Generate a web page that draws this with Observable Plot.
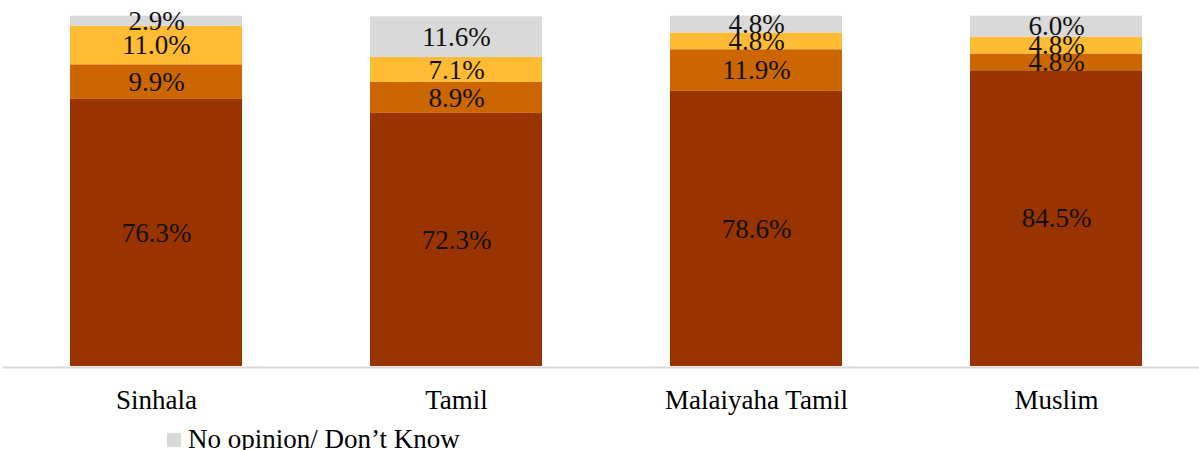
<!DOCTYPE html>
<html>
<head>
<meta charset="utf-8">
<script src="https://cdn.jsdelivr.net/npm/d3@7"></script>
<script src="https://cdn.jsdelivr.net/npm/@observablehq/plot@0.6"></script>
<style>
  body { margin: 0; background: #fff; font-family: "Liberation Serif", serif; }
  #wrap { position: relative; width: 1199px; height: 450px; }
  #legend { position: absolute; left: 167px; top: 424px; display: flex; align-items: center; font-size: 27px; color: #000; white-space: nowrap; }
  #legend .sw { width: 14px; height: 14px; margin-right: 7px; }
</style>
</head>
<body>
<div id="wrap">
  <div id="chart"></div>
  <div id="legend"></div>
</div>
<script>
const categories = ["Sinhala", "Tamil", "Malaiyaha Tamil", "Muslim"];
const seriesNames = ["Agree", "Somewhat agree", "Disagree", "No opinion/ Don\u2019t Know"];
const seriesColors = ["#993300", "#CC6600", "#FFBB33", "#D9D9D9"];
const agree = [76.3, 72.3, 78.6, 84.5];
const somewhatAgree = [9.9, 8.9, 11.9, 4.8];
const disagree = [11.0, 7.1, 4.8, 4.8];
const noOpinion = [2.9, 11.6, 4.8, 6.0];
const legendShown = ["No opinion/ Don\u2019t Know"];

const seriesValues = [agree, somewhatAgree, disagree, noOpinion];
const data = [];
seriesNames.forEach((s, si) => {
  categories.forEach((c, ci) => {
    data.push({cat: c, series: s, value: seriesValues[si][ci]});
  });
});

const chart = Plot.plot({
  width: 1199,
  height: 425,
  marginTop: 16,
  marginBottom: 59,
  marginLeft: 2,
  marginRight: 0,
  style: {fontFamily: "'Liberation Serif', serif", color: "#000", background: "#fff"},
  x: {domain: categories, range: [4.5, 1206.5], paddingInner: 0.4276, paddingOuter: 0.2138, label: null},
  y: {domain: [0, 100], axis: null},
  color: {domain: seriesNames, range: seriesColors},
  marks: [
    Plot.ruleY([0], {stroke: "#D9D9D9", strokeWidth: 2, dy: 1}),
    Plot.barY(data, {x: "cat", y: "value", fill: "series", z: "series", order: seriesNames, inset: 0}),
    Plot.text(data, Plot.stackY({x: "cat", y: "value", z: "series", order: seriesNames,
      text: d => d.value.toFixed(1) + "%", fontSize: 27, fill: "#111"})),
    Plot.axisX({tickSize: 0, tickPadding: 23, fontSize: 27, label: null, fill: "#000"})
  ]
});
document.getElementById("chart").appendChild(chart);

const legend = document.getElementById("legend");
legendShown.forEach(name => {
  const sw = document.createElement("span");
  sw.className = "sw";
  sw.style.background = seriesColors[seriesNames.indexOf(name)];
  const t = document.createElement("span");
  t.textContent = name;
  legend.appendChild(sw);
  legend.appendChild(t);
});
</script>
</body>
</html>
